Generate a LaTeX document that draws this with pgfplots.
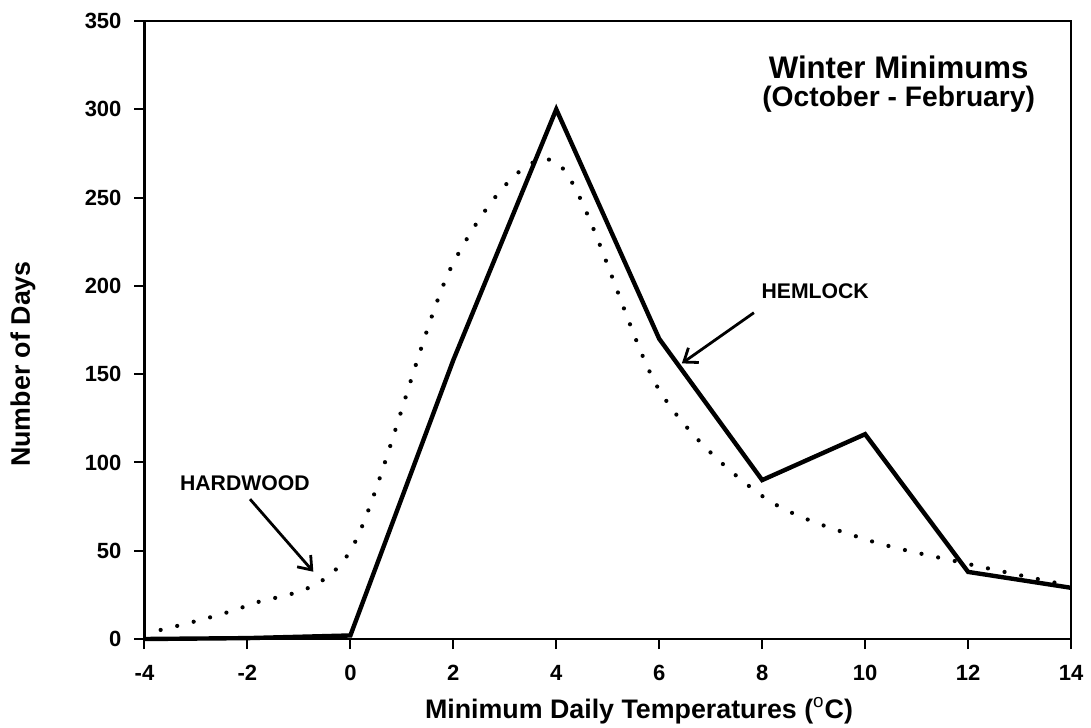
\documentclass[border=0pt]{standalone}
\usepackage{fontspec}
\setmainfont{Liberation Sans}
\usepackage{pgfplots}
\pgfplotsset{compat=1.18}
\usetikzlibrary{arrows.meta}
\begin{document}
\begin{tikzpicture}
\useasboundingbox (-72.25bp,-44.5bp) rectangle (473.25bp,319.5bp);
\begin{axis}[
  at={(0,0)}, anchor=south west,
  scale only axis,
  width=463.25bp, height=309bp,
  xmin=-4, xmax=14, ymin=0, ymax=350,
  xtick={-4,-2,...,14}, ytick={0,50,...,350},
  xtick pos=bottom, ytick pos=left,
  tick align=outside,
  major tick length=5bp,
  axis line style={line width=1.1bp},
  every tick/.style={black, line width=1bp},
  /pgf/number format/assume math mode=true,
  tick label style={font=\bfseries\fontsize{11bp}{12bp}\selectfont},
  xticklabel style={anchor=base, yshift=-15.5bp},
  yticklabel style={anchor=east, xshift=-3bp},
  xlabel={Minimum Daily Temperatures ($^{\mathrm{o}}$C)},
  ylabel={Number of Days},
  label style={font=\bfseries\fontsize{13.4bp}{15bp}\selectfont},
  xlabel style={at={(axis description cs:0.5337,0)}, anchor=base, yshift=-39.5bp},
  ylabel style={at={(axis description cs:-0.1311,0.445)}, anchor=center},
  clip=false,
]
% Hemlock (solid)
\addplot[black, line width=2.2bp, line join=miter] coordinates {
  (-4,0) (-2,0.5) (0,2) (2,158) (4,300) (6,170) (8,90) (10,116) (12,38) (14,29)
};
% Hardwood (dotted, smoothed)
\addplot[black, smooth, line width=2.1bp, line cap=round, dash pattern=on 0pt off 8.5bp, dash phase=0.2bp] coordinates {
  (-4,3) (-2,19) (0,50) (2,213) (4,270) (6,141) (8,81) (10,56.5) (12,42.5) (14,30)
};
% annotations
\node[font=\bfseries\fontsize{10.6bp}{12bp}\selectfont] at (axis cs:-2.05,88.2) {HARDWOOD};
\draw[line width=1.4bp, -{Straight Barb[length=6bp,width=9bp,line width=1.4bp]}] (axis cs:-1.95,79.2) -- (axis cs:-0.72,38.1);
\node[font=\bfseries\fontsize{10.6bp}{12bp}\selectfont] at (axis cs:9.03,196.7) {HEMLOCK};
\draw[line width=1.4bp, -{Straight Barb[length=6bp,width=9bp,line width=1.4bp]}] (axis cs:7.84,184.8) -- (axis cs:6.44,156.1);
\node[anchor=base, font=\bfseries\fontsize{15.6bp}{18bp}\selectfont] at (axis description cs:0.814,0.907) {Winter Minimums};
\node[anchor=base, font=\bfseries\fontsize{14.1bp}{16bp}\selectfont] at (axis description cs:0.814,0.862) {(October - February)};
\end{axis}
\end{tikzpicture}
\end{document}
